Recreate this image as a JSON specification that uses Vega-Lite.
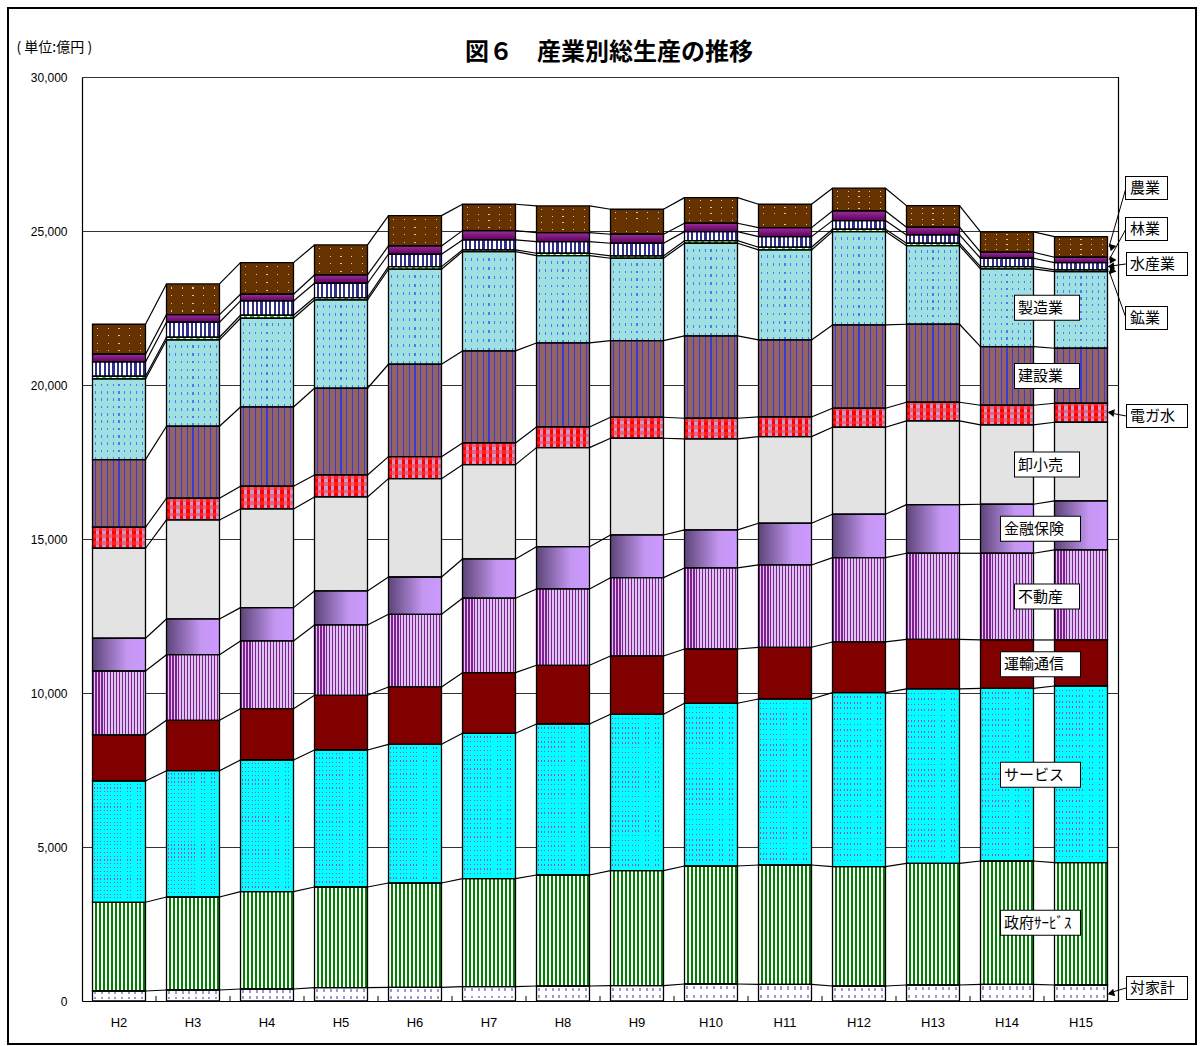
{
"$schema": "https://vega.github.io/schema/vega-lite/v6.json",
"width": 1188, "height": 1036,
"autosize": {"type": "none"},
"padding": {"left": 8, "top": 8, "right": 8, "bottom": 2},
"background": "#ffffff",
"config": {"view": {"stroke": "#000", "strokeWidth": 2, "fill": "#fff"}, "font": "Noto Sans CJK JP"},
"title": {"text": "図６　産業別総生産の推移", "font": "Noto Sans CJK JP", "fontSize": 24, "fontWeight": "bold", "color": "#000", "anchor": "middle", "frame": "group", "baseline": "middle", "offset": -69, "dx": 7},
"data": {"values": [
{"nen":2,"s":"対家計","v":325},{"nen":2,"s":"政府ｻｰﾋﾞｽ","v":2880},{"nen":2,"s":"サービス","v":3938},{"nen":2,"s":"運輸通信","v":1494},{"nen":2,"s":"不動産","v":2078},{"nen":2,"s":"金融保険","v":1062},{"nen":2,"s":"卸小売","v":2923},{"nen":2,"s":"電ガ水","v":681},{"nen":2,"s":"建設業","v":2195},{"nen":2,"s":"製造業","v":2620},{"nen":2,"s":"鉱業","v":88},{"nen":2,"s":"水産業","v":464},{"nen":2,"s":"林業","v":250},{"nen":2,"s":"農業","v":975},
{"nen":3,"s":"対家計","v":357},{"nen":3,"s":"政府ｻｰﾋﾞｽ","v":3020},{"nen":3,"s":"サービス","v":4101},{"nen":3,"s":"運輸通信","v":1636},{"nen":3,"s":"不動産","v":2131},{"nen":3,"s":"金融保険","v":1159},{"nen":3,"s":"卸小売","v":3214},{"nen":3,"s":"電ガ水","v":705},{"nen":3,"s":"建設業","v":2338},{"nen":3,"s":"製造業","v":2802},{"nen":3,"s":"鉱業","v":87},{"nen":3,"s":"水産業","v":488},{"nen":3,"s":"林業","v":247},{"nen":3,"s":"農業","v":996},
{"nen":4,"s":"対家計","v":390},{"nen":4,"s":"政府ｻｰﾋﾞｽ","v":3160},{"nen":4,"s":"サービス","v":4275},{"nen":4,"s":"運輸通信","v":1666},{"nen":4,"s":"不動産","v":2199},{"nen":4,"s":"金融保険","v":1081},{"nen":4,"s":"卸小売","v":3204},{"nen":4,"s":"電ガ水","v":737},{"nen":4,"s":"建設業","v":2575},{"nen":4,"s":"製造業","v":2880},{"nen":4,"s":"鉱業","v":97},{"nen":4,"s":"水産業","v":465},{"nen":4,"s":"林業","v":218},{"nen":4,"s":"農業","v":1026},
{"nen":5,"s":"対家計","v":433},{"nen":5,"s":"政府ｻｰﾋﾞｽ","v":3269},{"nen":5,"s":"サービス","v":4448},{"nen":5,"s":"運輸通信","v":1776},{"nen":5,"s":"不動産","v":2283},{"nen":5,"s":"金融保険","v":1104},{"nen":5,"s":"卸小売","v":3052},{"nen":5,"s":"電ガ水","v":714},{"nen":5,"s":"建設業","v":2815},{"nen":5,"s":"製造業","v":2868},{"nen":5,"s":"鉱業","v":78},{"nen":5,"s":"水産業","v":463},{"nen":5,"s":"林業","v":270},{"nen":5,"s":"農業","v":974},
{"nen":6,"s":"対家計","v":444},{"nen":6,"s":"政府ｻｰﾋﾞｽ","v":3387},{"nen":6,"s":"サービス","v":4503},{"nen":6,"s":"運輸通信","v":1862},{"nen":6,"s":"不動産","v":2360},{"nen":6,"s":"金融保険","v":1211},{"nen":6,"s":"卸小売","v":3192},{"nen":6,"s":"電ガ水","v":715},{"nen":6,"s":"建設業","v":3000},{"nen":6,"s":"製造業","v":3084},{"nen":6,"s":"鉱業","v":85},{"nen":6,"s":"水産業","v":402},{"nen":6,"s":"林業","v":270},{"nen":6,"s":"農業","v":984},
{"nen":7,"s":"対家計","v":465},{"nen":7,"s":"政府ｻｰﾋﾞｽ","v":3506},{"nen":7,"s":"サービス","v":4721},{"nen":7,"s":"運輸通信","v":1968},{"nen":7,"s":"不動産","v":2416},{"nen":7,"s":"金融保険","v":1276},{"nen":7,"s":"卸小売","v":3062},{"nen":7,"s":"電ガ水","v":704},{"nen":7,"s":"建設業","v":2988},{"nen":7,"s":"製造業","v":3224},{"nen":7,"s":"鉱業","v":55},{"nen":7,"s":"水産業","v":325},{"nen":7,"s":"林業","v":302},{"nen":7,"s":"農業","v":857},
{"nen":8,"s":"対家計","v":487},{"nen":8,"s":"政府ｻｰﾋﾞｽ","v":3604},{"nen":8,"s":"サービス","v":4903},{"nen":8,"s":"運輸通信","v":1906},{"nen":8,"s":"不動産","v":2478},{"nen":8,"s":"金融保険","v":1373},{"nen":8,"s":"卸小売","v":3215},{"nen":8,"s":"電ガ水","v":672},{"nen":8,"s":"建設業","v":2727},{"nen":8,"s":"製造業","v":2835},{"nen":8,"s":"鉱業","v":78},{"nen":8,"s":"水産業","v":377},{"nen":8,"s":"林業","v":292},{"nen":8,"s":"農業","v":867},
{"nen":9,"s":"対家計","v":497},{"nen":9,"s":"政府ｻｰﾋﾞｽ","v":3734},{"nen":9,"s":"サービス","v":5078},{"nen":9,"s":"運輸通信","v":1893},{"nen":9,"s":"不動産","v":2543},{"nen":9,"s":"金融保険","v":1386},{"nen":9,"s":"卸小売","v":3140},{"nen":9,"s":"電ガ水","v":682},{"nen":9,"s":"建設業","v":2487},{"nen":9,"s":"製造業","v":2676},{"nen":9,"s":"鉱業","v":74},{"nen":9,"s":"水産業","v":413},{"nen":9,"s":"林業","v":292},{"nen":9,"s":"農業","v":811},
{"nen":10,"s":"対家計","v":552},{"nen":10,"s":"政府ｻｰﾋﾞｽ","v":3831},{"nen":10,"s":"サービス","v":5283},{"nen":10,"s":"運輸通信","v":1763},{"nen":10,"s":"不動産","v":2631},{"nen":10,"s":"金融保険","v":1234},{"nen":10,"s":"卸小売","v":2954},{"nen":10,"s":"電ガ水","v":672},{"nen":10,"s":"建設業","v":2673},{"nen":10,"s":"製造業","v":3010},{"nen":10,"s":"鉱業","v":84},{"nen":10,"s":"水産業","v":293},{"nen":10,"s":"林業","v":272},{"nen":10,"s":"農業","v":832},
{"nen":11,"s":"対家計","v":541},{"nen":11,"s":"政府ｻｰﾋﾞｽ","v":3875},{"nen":11,"s":"サービス","v":5390},{"nen":11,"s":"運輸通信","v":1678},{"nen":11,"s":"不動産","v":2673},{"nen":11,"s":"金融保険","v":1354},{"nen":11,"s":"卸小売","v":2812},{"nen":11,"s":"電ガ水","v":640},{"nen":11,"s":"建設業","v":2500},{"nen":11,"s":"製造業","v":2922},{"nen":11,"s":"鉱業","v":87},{"nen":11,"s":"水産業","v":345},{"nen":11,"s":"林業","v":292},{"nen":11,"s":"農業","v":760},
{"nen":12,"s":"対家計","v":487},{"nen":12,"s":"政府ｻｰﾋﾞｽ","v":3874},{"nen":12,"s":"サービス","v":5650},{"nen":12,"s":"運輸通信","v":1646},{"nen":12,"s":"不動産","v":2737},{"nen":12,"s":"金融保険","v":1409},{"nen":12,"s":"卸小売","v":2825},{"nen":12,"s":"電ガ水","v":617},{"nen":12,"s":"建設業","v":2705},{"nen":12,"s":"製造業","v":3030},{"nen":12,"s":"鉱業","v":77},{"nen":12,"s":"水産業","v":280},{"nen":12,"s":"林業","v":315},{"nen":12,"s":"農業","v":737},
{"nen":13,"s":"対家計","v":520},{"nen":13,"s":"政府ｻｰﾋﾞｽ","v":3951},{"nen":13,"s":"サービス","v":5660},{"nen":13,"s":"運輸通信","v":1613},{"nen":13,"s":"不動産","v":2793},{"nen":13,"s":"金融保険","v":1578},{"nen":13,"s":"卸小売","v":2718},{"nen":13,"s":"電ガ水","v":607},{"nen":13,"s":"建設業","v":2533},{"nen":13,"s":"製造業","v":2552},{"nen":13,"s":"鉱業","v":78},{"nen":13,"s":"水産業","v":269},{"nen":13,"s":"林業","v":250},{"nen":13,"s":"農業","v":702},
{"nen":14,"s":"対家計","v":541},{"nen":14,"s":"政府ｻｰﾋﾞｽ","v":4005},{"nen":14,"s":"サービス","v":5607},{"nen":14,"s":"運輸通信","v":1569},{"nen":14,"s":"不動産","v":2815},{"nen":14,"s":"金融保険","v":1591},{"nen":14,"s":"卸小売","v":2575},{"nen":14,"s":"電ガ水","v":640},{"nen":14,"s":"建設業","v":1902},{"nen":14,"s":"製造業","v":2523},{"nen":14,"s":"鉱業","v":75},{"nen":14,"s":"水産業","v":273},{"nen":14,"s":"林業","v":195},{"nen":14,"s":"農業","v":659},
{"nen":15,"s":"対家計","v":520},{"nen":15,"s":"政府ｻｰﾋﾞｽ","v":3971},{"nen":15,"s":"サービス","v":5737},{"nen":15,"s":"運輸通信","v":1494},{"nen":15,"s":"不動産","v":2922},{"nen":15,"s":"金融保険","v":1591},{"nen":15,"s":"卸小売","v":2555},{"nen":15,"s":"電ガ水","v":617},{"nen":15,"s":"建設業","v":1786},{"nen":15,"s":"製造業","v":2487},{"nen":15,"s":"鉱業","v":56},{"nen":15,"s":"水産業","v":237},{"nen":15,"s":"林業","v":175},{"nen":15,"s":"農業","v":669}
]},
"transform": [
{"calculate": "indexof(['対家計','政府ｻｰﾋﾞｽ','サービス','運輸通信','不動産','金融保険','卸小売','電ガ水','建設業','製造業','鉱業','水産業','林業','農業'], datum.s)", "as": "k"},
{"stack": "v", "groupby": ["nen"], "sort": [{"field": "k", "order": "ascending"}], "as": ["y0", "y1"]},
{"calculate": "(datum.y0 + datum.y1) / 2", "as": "mid"},
{"window": [{"op": "lead", "field": "nen", "as": "nx"}, {"op": "lead", "field": "y1", "as": "ny1"}], "groupby": ["s"], "sort": [{"field": "nen", "order": "ascending"}]}
],
"layer": [
{"mark": {"type": "bar"},
 "encoding": {
  "x": {"field": "nen", "type": "ordinal", "scale": {"range": [74, 1110], "paddingInner": 0.284, "paddingOuter": 0.142},
        "axis": {"orient": "bottom", "offset": -43, "title": null, "labelExpr": "isValid(datum.value) ? 'H' + datum.value : ''", "labelAngle": 0, "labelFont": "Liberation Sans", "labelFontSize": 13, "labelColor": "#000", "labelPadding": 15, "ticks": false, "domainColor": "#000", "domainWidth": 1.2, "grid": false}},
  "y": {"field": "y0", "type": "quantitative", "scale": {"domain": [0, 30000], "range": [993, 69], "nice": false, "zero": true},
        "axis": {"orient": "left", "offset": -74, "values": [0, 5000, 10000, 15000, 20000, 25000, 30000], "labelExpr": "format(datum.value, ',.0f')", "grid": true, "gridColor": "#333", "gridWidth": 1, "ticks": false, "domain": true, "domainColor": "#000", "domainWidth": 1.2, "labelFont": "Liberation Sans", "labelFontSize": 12, "labelColor": "#000", "labelPadding": 15, "title": "( 単位:億円 )", "titleAngle": 0, "titleAlign": "left", "titleBaseline": "middle", "titleX": -66, "titleY": 39, "titleFont": "Noto Sans CJK JP", "titleFontSize": 14, "titleFontWeight": "normal", "titleColor": "#000"}},
  "y2": {"field": "y1"},
  "color": {"field": "s", "type": "nominal", "legend": null,
     "scale": {"domain": ["対家計","政府ｻｰﾋﾞｽ","サービス","運輸通信","不動産","金融保険","卸小売","電ガ水","建設業","製造業","鉱業","水産業","林業","農業"],
               "range": ["#f4f4fa","#ffffff","#00ffff","#800000","#c8a0e0","#9070b8","#e3e3e3","#ff3366","#936262","#a0dfe2","#ffffff","#ffffff","#800080","#663300"]}}
 }},
{"transform": [{"filter": "datum.s == '対家計'"}],
 "mark": {"type": "bar", "fill": {"gradient": "linear", "x1": 0, "y1": 0, "x2": 1, "y2": 0, "stops": [{"offset":0,"color":"#fff"},{"offset":0.0375,"color":"#fff"},{"offset":0.0375,"color":"#9a9ad0"},{"offset":0.075,"color":"#9a9ad0"},{"offset":0.075,"color":"#fff"},{"offset":0.1625,"color":"#fff"},{"offset":0.1625,"color":"#9a9ad0"},{"offset":0.2,"color":"#9a9ad0"},{"offset":0.2,"color":"#fff"},{"offset":0.2875,"color":"#fff"},{"offset":0.2875,"color":"#9a9ad0"},{"offset":0.325,"color":"#9a9ad0"},{"offset":0.325,"color":"#fff"},{"offset":0.4125,"color":"#fff"},{"offset":0.4125,"color":"#9a9ad0"},{"offset":0.45,"color":"#9a9ad0"},{"offset":0.45,"color":"#fff"},{"offset":0.5375,"color":"#fff"},{"offset":0.5375,"color":"#9a9ad0"},{"offset":0.575,"color":"#9a9ad0"},{"offset":0.575,"color":"#fff"},{"offset":0.6625,"color":"#fff"},{"offset":0.6625,"color":"#9a9ad0"},{"offset":0.7,"color":"#9a9ad0"},{"offset":0.7,"color":"#fff"},{"offset":0.7875,"color":"#fff"},{"offset":0.7875,"color":"#9a9ad0"},{"offset":0.825,"color":"#9a9ad0"},{"offset":0.825,"color":"#fff"},{"offset":0.9125,"color":"#fff"},{"offset":0.9125,"color":"#9a9ad0"},{"offset":0.95,"color":"#9a9ad0"},{"offset":0.95,"color":"#fff"},{"offset":1,"color":"#fff"}]}},
 "encoding": {"x": {"field": "nen", "type": "ordinal"}, "y": {"field": "y0", "type": "quantitative"}, "y2": {"field": "y1"}}},
{"transform": [{"filter": "datum.s == '対家計'"}],
 "mark": {"type": "bar", "fill": {"gradient": "linear", "x1": 0, "y1": 0, "x2": 0, "y2": 1, "stops": [{"offset":0,"color":"#fff"},{"offset":0.12,"color":"#fff"},{"offset":0.12,"color":"rgba(255,255,255,0)"},{"offset":0.32,"color":"rgba(255,255,255,0)"},{"offset":0.32,"color":"#fff"},{"offset":0.62,"color":"#fff"},{"offset":0.62,"color":"rgba(255,255,255,0)"},{"offset":0.82,"color":"rgba(255,255,255,0)"},{"offset":0.82,"color":"#fff"},{"offset":1,"color":"#fff"}]}},
 "encoding": {"x": {"field": "nen", "type": "ordinal"}, "y": {"field": "y0", "type": "quantitative"}, "y2": {"field": "y1"}}},
{"transform": [{"filter": "datum.s == '政府ｻｰﾋﾞｽ'"}],
 "mark": {"type": "bar", "fill": {"gradient": "linear", "x1": 0, "y1": 0, "x2": 1, "y2": 0, "stops": [{"offset":0,"color":"#fff"},{"offset":0.0385,"color":"#fff"},{"offset":0.0385,"color":"#008000"},{"offset":0.0769,"color":"#008000"},{"offset":0.0769,"color":"#fff"},{"offset":0.1154,"color":"#fff"},{"offset":0.1154,"color":"#008000"},{"offset":0.1538,"color":"#008000"},{"offset":0.1538,"color":"#fff"},{"offset":0.1923,"color":"#fff"},{"offset":0.1923,"color":"#008000"},{"offset":0.2308,"color":"#008000"},{"offset":0.2308,"color":"#fff"},{"offset":0.2692,"color":"#fff"},{"offset":0.2692,"color":"#008000"},{"offset":0.3077,"color":"#008000"},{"offset":0.3077,"color":"#fff"},{"offset":0.3462,"color":"#fff"},{"offset":0.3462,"color":"#008000"},{"offset":0.3846,"color":"#008000"},{"offset":0.3846,"color":"#fff"},{"offset":0.4231,"color":"#fff"},{"offset":0.4231,"color":"#008000"},{"offset":0.4615,"color":"#008000"},{"offset":0.4615,"color":"#fff"},{"offset":0.5,"color":"#fff"},{"offset":0.5,"color":"#008000"},{"offset":0.5385,"color":"#008000"},{"offset":0.5385,"color":"#fff"},{"offset":0.5769,"color":"#fff"},{"offset":0.5769,"color":"#008000"},{"offset":0.6154,"color":"#008000"},{"offset":0.6154,"color":"#fff"},{"offset":0.6538,"color":"#fff"},{"offset":0.6538,"color":"#008000"},{"offset":0.6923,"color":"#008000"},{"offset":0.6923,"color":"#fff"},{"offset":0.7308,"color":"#fff"},{"offset":0.7308,"color":"#008000"},{"offset":0.7692,"color":"#008000"},{"offset":0.7692,"color":"#fff"},{"offset":0.8077,"color":"#fff"},{"offset":0.8077,"color":"#008000"},{"offset":0.8462,"color":"#008000"},{"offset":0.8462,"color":"#fff"},{"offset":0.8846,"color":"#fff"},{"offset":0.8846,"color":"#008000"},{"offset":0.9231,"color":"#008000"},{"offset":0.9231,"color":"#fff"},{"offset":0.9615,"color":"#fff"},{"offset":0.9615,"color":"#008000"},{"offset":1,"color":"#008000"}]}},
 "encoding": {"x": {"field": "nen", "type": "ordinal"}, "y": {"field": "y0", "type": "quantitative"}, "y2": {"field": "y1"}}},
{"transform": [{"filter": "datum.s == 'サービス'"}],
 "mark": {"type": "bar", "fill": {"gradient": "linear", "x1": 0, "y1": 0, "x2": 1, "y2": 0, "stops": [{"offset":0,"color":"#00ffff"},{"offset":0.025,"color":"#00ffff"},{"offset":0.025,"color":"#b040c8"},{"offset":0.0406,"color":"#b040c8"},{"offset":0.0406,"color":"#00ffff"},{"offset":0.0875,"color":"#00ffff"},{"offset":0.0875,"color":"#b040c8"},{"offset":0.1031,"color":"#b040c8"},{"offset":0.1031,"color":"#00ffff"},{"offset":0.15,"color":"#00ffff"},{"offset":0.15,"color":"#b040c8"},{"offset":0.1656,"color":"#b040c8"},{"offset":0.1656,"color":"#00ffff"},{"offset":0.2125,"color":"#00ffff"},{"offset":0.2125,"color":"#b040c8"},{"offset":0.2281,"color":"#b040c8"},{"offset":0.2281,"color":"#00ffff"},{"offset":0.275,"color":"#00ffff"},{"offset":0.275,"color":"#b040c8"},{"offset":0.2906,"color":"#b040c8"},{"offset":0.2906,"color":"#00ffff"},{"offset":0.3375,"color":"#00ffff"},{"offset":0.3375,"color":"#b040c8"},{"offset":0.3531,"color":"#b040c8"},{"offset":0.3531,"color":"#00ffff"},{"offset":0.4,"color":"#00ffff"},{"offset":0.4,"color":"#b040c8"},{"offset":0.4156,"color":"#b040c8"},{"offset":0.4156,"color":"#00ffff"},{"offset":0.4625,"color":"#00ffff"},{"offset":0.4625,"color":"#b040c8"},{"offset":0.4781,"color":"#b040c8"},{"offset":0.4781,"color":"#00ffff"},{"offset":0.525,"color":"#00ffff"},{"offset":0.525,"color":"#b040c8"},{"offset":0.5406,"color":"#b040c8"},{"offset":0.5406,"color":"#00ffff"},{"offset":0.5875,"color":"#00ffff"},{"offset":0.5875,"color":"#b040c8"},{"offset":0.6031,"color":"#b040c8"},{"offset":0.6031,"color":"#00ffff"},{"offset":0.65,"color":"#00ffff"},{"offset":0.65,"color":"#b040c8"},{"offset":0.6656,"color":"#b040c8"},{"offset":0.6656,"color":"#00ffff"},{"offset":0.7125,"color":"#00ffff"},{"offset":0.7125,"color":"#b040c8"},{"offset":0.7281,"color":"#b040c8"},{"offset":0.7281,"color":"#00ffff"},{"offset":0.775,"color":"#00ffff"},{"offset":0.775,"color":"#b040c8"},{"offset":0.7906,"color":"#b040c8"},{"offset":0.7906,"color":"#00ffff"},{"offset":0.8375,"color":"#00ffff"},{"offset":0.8375,"color":"#b040c8"},{"offset":0.8531,"color":"#b040c8"},{"offset":0.8531,"color":"#00ffff"},{"offset":0.9,"color":"#00ffff"},{"offset":0.9,"color":"#b040c8"},{"offset":0.9156,"color":"#b040c8"},{"offset":0.9156,"color":"#00ffff"},{"offset":0.9625,"color":"#00ffff"},{"offset":0.9625,"color":"#b040c8"},{"offset":0.9781,"color":"#b040c8"},{"offset":0.9781,"color":"#00ffff"},{"offset":1,"color":"#00ffff"}]}},
 "encoding": {"x": {"field": "nen", "type": "ordinal"}, "y": {"field": "y0", "type": "quantitative"}, "y2": {"field": "y1"}}},
{"transform": [{"filter": "datum.s == 'サービス'"}],
 "mark": {"type": "bar", "fill": {"gradient": "linear", "x1": 0, "y1": 0, "x2": 0, "y2": 1, "stops": [{"offset":0,"color":"#00ffff"},{"offset":0.0219,"color":"#00ffff"},{"offset":0.0219,"color":"rgba(0,255,255,0)"},{"offset":0.03125,"color":"rgba(0,255,255,0)"},{"offset":0.03125,"color":"#00ffff"},{"offset":0.0531,"color":"#00ffff"},{"offset":0.0531,"color":"rgba(0,255,255,0)"},{"offset":0.0625,"color":"rgba(0,255,255,0)"},{"offset":0.0625,"color":"#00ffff"},{"offset":0.0844,"color":"#00ffff"},{"offset":0.0844,"color":"rgba(0,255,255,0)"},{"offset":0.09375,"color":"rgba(0,255,255,0)"},{"offset":0.09375,"color":"#00ffff"},{"offset":0.1156,"color":"#00ffff"},{"offset":0.1156,"color":"rgba(0,255,255,0)"},{"offset":0.125,"color":"rgba(0,255,255,0)"},{"offset":0.125,"color":"#00ffff"},{"offset":0.1469,"color":"#00ffff"},{"offset":0.1469,"color":"rgba(0,255,255,0)"},{"offset":0.15625,"color":"rgba(0,255,255,0)"},{"offset":0.15625,"color":"#00ffff"},{"offset":0.1781,"color":"#00ffff"},{"offset":0.1781,"color":"rgba(0,255,255,0)"},{"offset":0.1875,"color":"rgba(0,255,255,0)"},{"offset":0.1875,"color":"#00ffff"},{"offset":0.2094,"color":"#00ffff"},{"offset":0.2094,"color":"rgba(0,255,255,0)"},{"offset":0.21875,"color":"rgba(0,255,255,0)"},{"offset":0.21875,"color":"#00ffff"},{"offset":0.2406,"color":"#00ffff"},{"offset":0.2406,"color":"rgba(0,255,255,0)"},{"offset":0.25,"color":"rgba(0,255,255,0)"},{"offset":0.25,"color":"#00ffff"},{"offset":0.2719,"color":"#00ffff"},{"offset":0.2719,"color":"rgba(0,255,255,0)"},{"offset":0.28125,"color":"rgba(0,255,255,0)"},{"offset":0.28125,"color":"#00ffff"},{"offset":0.3031,"color":"#00ffff"},{"offset":0.3031,"color":"rgba(0,255,255,0)"},{"offset":0.3125,"color":"rgba(0,255,255,0)"},{"offset":0.3125,"color":"#00ffff"},{"offset":0.3344,"color":"#00ffff"},{"offset":0.3344,"color":"rgba(0,255,255,0)"},{"offset":0.34375,"color":"rgba(0,255,255,0)"},{"offset":0.34375,"color":"#00ffff"},{"offset":0.3656,"color":"#00ffff"},{"offset":0.3656,"color":"rgba(0,255,255,0)"},{"offset":0.375,"color":"rgba(0,255,255,0)"},{"offset":0.375,"color":"#00ffff"},{"offset":0.3969,"color":"#00ffff"},{"offset":0.3969,"color":"rgba(0,255,255,0)"},{"offset":0.40625,"color":"rgba(0,255,255,0)"},{"offset":0.40625,"color":"#00ffff"},{"offset":0.4281,"color":"#00ffff"},{"offset":0.4281,"color":"rgba(0,255,255,0)"},{"offset":0.4375,"color":"rgba(0,255,255,0)"},{"offset":0.4375,"color":"#00ffff"},{"offset":0.4594,"color":"#00ffff"},{"offset":0.4594,"color":"rgba(0,255,255,0)"},{"offset":0.46875,"color":"rgba(0,255,255,0)"},{"offset":0.46875,"color":"#00ffff"},{"offset":0.4906,"color":"#00ffff"},{"offset":0.4906,"color":"rgba(0,255,255,0)"},{"offset":0.5,"color":"rgba(0,255,255,0)"},{"offset":0.5,"color":"#00ffff"},{"offset":0.5219,"color":"#00ffff"},{"offset":0.5219,"color":"rgba(0,255,255,0)"},{"offset":0.53125,"color":"rgba(0,255,255,0)"},{"offset":0.53125,"color":"#00ffff"},{"offset":0.5531,"color":"#00ffff"},{"offset":0.5531,"color":"rgba(0,255,255,0)"},{"offset":0.5625,"color":"rgba(0,255,255,0)"},{"offset":0.5625,"color":"#00ffff"},{"offset":0.5844,"color":"#00ffff"},{"offset":0.5844,"color":"rgba(0,255,255,0)"},{"offset":0.59375,"color":"rgba(0,255,255,0)"},{"offset":0.59375,"color":"#00ffff"},{"offset":0.6156,"color":"#00ffff"},{"offset":0.6156,"color":"rgba(0,255,255,0)"},{"offset":0.625,"color":"rgba(0,255,255,0)"},{"offset":0.625,"color":"#00ffff"},{"offset":0.6469,"color":"#00ffff"},{"offset":0.6469,"color":"rgba(0,255,255,0)"},{"offset":0.65625,"color":"rgba(0,255,255,0)"},{"offset":0.65625,"color":"#00ffff"},{"offset":0.6781,"color":"#00ffff"},{"offset":0.6781,"color":"rgba(0,255,255,0)"},{"offset":0.6875,"color":"rgba(0,255,255,0)"},{"offset":0.6875,"color":"#00ffff"},{"offset":0.7094,"color":"#00ffff"},{"offset":0.7094,"color":"rgba(0,255,255,0)"},{"offset":0.71875,"color":"rgba(0,255,255,0)"},{"offset":0.71875,"color":"#00ffff"},{"offset":0.7406,"color":"#00ffff"},{"offset":0.7406,"color":"rgba(0,255,255,0)"},{"offset":0.75,"color":"rgba(0,255,255,0)"},{"offset":0.75,"color":"#00ffff"},{"offset":0.7719,"color":"#00ffff"},{"offset":0.7719,"color":"rgba(0,255,255,0)"},{"offset":0.78125,"color":"rgba(0,255,255,0)"},{"offset":0.78125,"color":"#00ffff"},{"offset":0.8031,"color":"#00ffff"},{"offset":0.8031,"color":"rgba(0,255,255,0)"},{"offset":0.8125,"color":"rgba(0,255,255,0)"},{"offset":0.8125,"color":"#00ffff"},{"offset":0.8344,"color":"#00ffff"},{"offset":0.8344,"color":"rgba(0,255,255,0)"},{"offset":0.84375,"color":"rgba(0,255,255,0)"},{"offset":0.84375,"color":"#00ffff"},{"offset":0.8656,"color":"#00ffff"},{"offset":0.8656,"color":"rgba(0,255,255,0)"},{"offset":0.875,"color":"rgba(0,255,255,0)"},{"offset":0.875,"color":"#00ffff"},{"offset":0.8969,"color":"#00ffff"},{"offset":0.8969,"color":"rgba(0,255,255,0)"},{"offset":0.90625,"color":"rgba(0,255,255,0)"},{"offset":0.90625,"color":"#00ffff"},{"offset":0.9281,"color":"#00ffff"},{"offset":0.9281,"color":"rgba(0,255,255,0)"},{"offset":0.9375,"color":"rgba(0,255,255,0)"},{"offset":0.9375,"color":"#00ffff"},{"offset":0.9594,"color":"#00ffff"},{"offset":0.9594,"color":"rgba(0,255,255,0)"},{"offset":0.96875,"color":"rgba(0,255,255,0)"},{"offset":0.96875,"color":"#00ffff"},{"offset":1,"color":"#00ffff"}]}},
 "encoding": {"x": {"field": "nen", "type": "ordinal"}, "y": {"field": "y0", "type": "quantitative"}, "y2": {"field": "y1"}}},
{"transform": [{"filter": "datum.s == '不動産'"}],
 "mark": {"type": "bar", "fill": {"gradient": "linear", "x1": 0, "y1": 0, "x2": 1, "y2": 0, "stops": [{"offset":0,"color":"#80208f"},{"offset":0.0222,"color":"#80208f"},{"offset":0.0222,"color":"#dcc4f0"},{"offset":0.0556,"color":"#dcc4f0"},{"offset":0.0556,"color":"#80208f"},{"offset":0.0778,"color":"#80208f"},{"offset":0.0778,"color":"#dcc4f0"},{"offset":0.1111,"color":"#dcc4f0"},{"offset":0.1111,"color":"#80208f"},{"offset":0.1333,"color":"#80208f"},{"offset":0.1333,"color":"#dcc4f0"},{"offset":0.1667,"color":"#dcc4f0"},{"offset":0.1667,"color":"#80208f"},{"offset":0.1889,"color":"#80208f"},{"offset":0.1889,"color":"#dcc4f0"},{"offset":0.2222,"color":"#dcc4f0"},{"offset":0.2222,"color":"#80208f"},{"offset":0.2444,"color":"#80208f"},{"offset":0.2444,"color":"#dcc4f0"},{"offset":0.2778,"color":"#dcc4f0"},{"offset":0.2778,"color":"#80208f"},{"offset":0.3,"color":"#80208f"},{"offset":0.3,"color":"#dcc4f0"},{"offset":0.3333,"color":"#dcc4f0"},{"offset":0.3333,"color":"#80208f"},{"offset":0.3556,"color":"#80208f"},{"offset":0.3556,"color":"#dcc4f0"},{"offset":0.3889,"color":"#dcc4f0"},{"offset":0.3889,"color":"#80208f"},{"offset":0.4111,"color":"#80208f"},{"offset":0.4111,"color":"#dcc4f0"},{"offset":0.4444,"color":"#dcc4f0"},{"offset":0.4444,"color":"#80208f"},{"offset":0.4667,"color":"#80208f"},{"offset":0.4667,"color":"#dcc4f0"},{"offset":0.5,"color":"#dcc4f0"},{"offset":0.5,"color":"#80208f"},{"offset":0.5222,"color":"#80208f"},{"offset":0.5222,"color":"#dcc4f0"},{"offset":0.5556,"color":"#dcc4f0"},{"offset":0.5556,"color":"#80208f"},{"offset":0.5778,"color":"#80208f"},{"offset":0.5778,"color":"#dcc4f0"},{"offset":0.6111,"color":"#dcc4f0"},{"offset":0.6111,"color":"#80208f"},{"offset":0.6333,"color":"#80208f"},{"offset":0.6333,"color":"#dcc4f0"},{"offset":0.6667,"color":"#dcc4f0"},{"offset":0.6667,"color":"#80208f"},{"offset":0.6889,"color":"#80208f"},{"offset":0.6889,"color":"#dcc4f0"},{"offset":0.7222,"color":"#dcc4f0"},{"offset":0.7222,"color":"#80208f"},{"offset":0.7444,"color":"#80208f"},{"offset":0.7444,"color":"#dcc4f0"},{"offset":0.7778,"color":"#dcc4f0"},{"offset":0.7778,"color":"#80208f"},{"offset":0.8,"color":"#80208f"},{"offset":0.8,"color":"#dcc4f0"},{"offset":0.8333,"color":"#dcc4f0"},{"offset":0.8333,"color":"#80208f"},{"offset":0.8556,"color":"#80208f"},{"offset":0.8556,"color":"#dcc4f0"},{"offset":0.8889,"color":"#dcc4f0"},{"offset":0.8889,"color":"#80208f"},{"offset":0.9111,"color":"#80208f"},{"offset":0.9111,"color":"#dcc4f0"},{"offset":0.9444,"color":"#dcc4f0"},{"offset":0.9444,"color":"#80208f"},{"offset":0.9667,"color":"#80208f"},{"offset":0.9667,"color":"#dcc4f0"},{"offset":1,"color":"#dcc4f0"}]}},
 "encoding": {"x": {"field": "nen", "type": "ordinal"}, "y": {"field": "y0", "type": "quantitative"}, "y2": {"field": "y1"}}},
{"transform": [{"filter": "datum.s == '金融保険'"}],
 "mark": {"type": "bar", "fill": {"gradient": "linear", "x1": 0, "y1": 0, "x2": 1, "y2": 0, "stops": [{"offset": 0, "color": "#5c4477"}, {"offset": 0.65, "color": "#c497f2"}, {"offset": 1, "color": "#cc99ff"}]}},
 "encoding": {"x": {"field": "nen", "type": "ordinal"}, "y": {"field": "y0", "type": "quantitative"}, "y2": {"field": "y1"}}},
{"transform": [{"filter": "datum.s == '電ガ水'"}],
 "mark": {"type": "bar", "fill": {"gradient": "linear", "x1": 0, "y1": 0, "x2": 1, "y2": 0, "stops": [{"offset":0,"color":"#ff0000"},{"offset":0.0625,"color":"#ff0000"},{"offset":0.0625,"color":"#cc99cc"},{"offset":0.125,"color":"#cc99cc"},{"offset":0.125,"color":"#ff0000"},{"offset":0.1875,"color":"#ff0000"},{"offset":0.1875,"color":"#cc99cc"},{"offset":0.25,"color":"#cc99cc"},{"offset":0.25,"color":"#ff0000"},{"offset":0.3125,"color":"#ff0000"},{"offset":0.3125,"color":"#cc99cc"},{"offset":0.375,"color":"#cc99cc"},{"offset":0.375,"color":"#ff0000"},{"offset":0.4375,"color":"#ff0000"},{"offset":0.4375,"color":"#cc99cc"},{"offset":0.5,"color":"#cc99cc"},{"offset":0.5,"color":"#ff0000"},{"offset":0.5625,"color":"#ff0000"},{"offset":0.5625,"color":"#cc99cc"},{"offset":0.625,"color":"#cc99cc"},{"offset":0.625,"color":"#ff0000"},{"offset":0.6875,"color":"#ff0000"},{"offset":0.6875,"color":"#cc99cc"},{"offset":0.75,"color":"#cc99cc"},{"offset":0.75,"color":"#ff0000"},{"offset":0.8125,"color":"#ff0000"},{"offset":0.8125,"color":"#cc99cc"},{"offset":0.875,"color":"#cc99cc"},{"offset":0.875,"color":"#ff0000"},{"offset":0.9375,"color":"#ff0000"},{"offset":0.9375,"color":"#cc99cc"},{"offset":1,"color":"#cc99cc"}]}},
 "encoding": {"x": {"field": "nen", "type": "ordinal"}, "y": {"field": "y0", "type": "quantitative"}, "y2": {"field": "y1"}}},
{"transform": [{"filter": "datum.s == '電ガ水'"}],
 "mark": {"type": "bar", "fill": {"gradient": "linear", "x1": 0, "y1": 0, "x2": 0, "y2": 1, "stops": [{"offset":0,"color":"rgba(255,60,60,0.55)"},{"offset":0.167,"color":"rgba(255,60,60,0.55)"},{"offset":0.167,"color":"rgba(255,255,255,0)"},{"offset":0.333,"color":"rgba(255,255,255,0)"},{"offset":0.333,"color":"rgba(255,60,60,0.55)"},{"offset":0.5,"color":"rgba(255,60,60,0.55)"},{"offset":0.5,"color":"rgba(255,255,255,0)"},{"offset":0.667,"color":"rgba(255,255,255,0)"},{"offset":0.667,"color":"rgba(255,60,60,0.55)"},{"offset":0.833,"color":"rgba(255,60,60,0.55)"},{"offset":0.833,"color":"rgba(255,255,255,0)"},{"offset":1,"color":"rgba(255,255,255,0)"}]}},
 "encoding": {"x": {"field": "nen", "type": "ordinal"}, "y": {"field": "y0", "type": "quantitative"}, "y2": {"field": "y1"}}},
{"transform": [{"filter": "datum.s == '建設業'"}],
 "mark": {"type": "bar", "fill": {"gradient": "linear", "x1": 0, "y1": 0, "x2": 1, "y2": 0, "stops": [{"offset":0,"color":"#936262"},{"offset":0.0444,"color":"#936262"},{"offset":0.0444,"color":"#3a3ad6"},{"offset":0.0667,"color":"#3a3ad6"},{"offset":0.0667,"color":"#936262"},{"offset":0.1556,"color":"#936262"},{"offset":0.1556,"color":"#3a3ad6"},{"offset":0.1778,"color":"#3a3ad6"},{"offset":0.1778,"color":"#936262"},{"offset":0.2667,"color":"#936262"},{"offset":0.2667,"color":"#3a3ad6"},{"offset":0.2889,"color":"#3a3ad6"},{"offset":0.2889,"color":"#936262"},{"offset":0.3778,"color":"#936262"},{"offset":0.3778,"color":"#3a3ad6"},{"offset":0.4,"color":"#3a3ad6"},{"offset":0.4,"color":"#936262"},{"offset":0.4889,"color":"#936262"},{"offset":0.4889,"color":"#3a3ad6"},{"offset":0.5111,"color":"#3a3ad6"},{"offset":0.5111,"color":"#936262"},{"offset":0.6,"color":"#936262"},{"offset":0.6,"color":"#3a3ad6"},{"offset":0.6222,"color":"#3a3ad6"},{"offset":0.6222,"color":"#936262"},{"offset":0.7111,"color":"#936262"},{"offset":0.7111,"color":"#3a3ad6"},{"offset":0.7333,"color":"#3a3ad6"},{"offset":0.7333,"color":"#936262"},{"offset":0.8222,"color":"#936262"},{"offset":0.8222,"color":"#3a3ad6"},{"offset":0.8444,"color":"#3a3ad6"},{"offset":0.8444,"color":"#936262"},{"offset":0.9333,"color":"#936262"},{"offset":0.9333,"color":"#3a3ad6"},{"offset":0.9556,"color":"#3a3ad6"},{"offset":0.9556,"color":"#936262"},{"offset":1,"color":"#936262"}]}},
 "encoding": {"x": {"field": "nen", "type": "ordinal"}, "y": {"field": "y0", "type": "quantitative"}, "y2": {"field": "y1"}}},
{"transform": [{"filter": "datum.s == '製造業'"}],
 "mark": {"type": "bar", "fill": {"gradient": "linear", "x1": 0, "y1": 0, "x2": 1, "y2": 0, "stops": [{"offset":0,"color":"#a0dfe2"},{"offset":0.0444,"color":"#a0dfe2"},{"offset":0.0444,"color":"#3f80f2"},{"offset":0.0667,"color":"#3f80f2"},{"offset":0.0667,"color":"#a0dfe2"},{"offset":0.1556,"color":"#a0dfe2"},{"offset":0.1556,"color":"#3f80f2"},{"offset":0.1778,"color":"#3f80f2"},{"offset":0.1778,"color":"#a0dfe2"},{"offset":0.2667,"color":"#a0dfe2"},{"offset":0.2667,"color":"#3f80f2"},{"offset":0.2889,"color":"#3f80f2"},{"offset":0.2889,"color":"#a0dfe2"},{"offset":0.3778,"color":"#a0dfe2"},{"offset":0.3778,"color":"#3f80f2"},{"offset":0.4,"color":"#3f80f2"},{"offset":0.4,"color":"#a0dfe2"},{"offset":0.4889,"color":"#a0dfe2"},{"offset":0.4889,"color":"#3f80f2"},{"offset":0.5111,"color":"#3f80f2"},{"offset":0.5111,"color":"#a0dfe2"},{"offset":0.6,"color":"#a0dfe2"},{"offset":0.6,"color":"#3f80f2"},{"offset":0.6222,"color":"#3f80f2"},{"offset":0.6222,"color":"#a0dfe2"},{"offset":0.7111,"color":"#a0dfe2"},{"offset":0.7111,"color":"#3f80f2"},{"offset":0.7333,"color":"#3f80f2"},{"offset":0.7333,"color":"#a0dfe2"},{"offset":0.8222,"color":"#a0dfe2"},{"offset":0.8222,"color":"#3f80f2"},{"offset":0.8444,"color":"#3f80f2"},{"offset":0.8444,"color":"#a0dfe2"},{"offset":0.9333,"color":"#a0dfe2"},{"offset":0.9333,"color":"#3f80f2"},{"offset":0.9556,"color":"#3f80f2"},{"offset":0.9556,"color":"#a0dfe2"},{"offset":1,"color":"#a0dfe2"}]}},
 "encoding": {"x": {"field": "nen", "type": "ordinal"}, "y": {"field": "y0", "type": "quantitative"}, "y2": {"field": "y1"}}},
{"transform": [{"filter": "datum.s == '製造業'"}],
 "mark": {"type": "bar", "fill": {"gradient": "linear", "x1": 0, "y1": 0, "x2": 0, "y2": 1, "stops": [{"offset":0,"color":"#a0dfe2"},{"offset":0.0591,"color":"#a0dfe2"},{"offset":0.0591,"color":"rgba(160,223,226,0)"},{"offset":0.0909,"color":"rgba(160,223,226,0)"},{"offset":0.0909,"color":"#a0dfe2"},{"offset":0.15,"color":"#a0dfe2"},{"offset":0.15,"color":"rgba(160,223,226,0)"},{"offset":0.1818,"color":"rgba(160,223,226,0)"},{"offset":0.1818,"color":"#a0dfe2"},{"offset":0.2409,"color":"#a0dfe2"},{"offset":0.2409,"color":"rgba(160,223,226,0)"},{"offset":0.2727,"color":"rgba(160,223,226,0)"},{"offset":0.2727,"color":"#a0dfe2"},{"offset":0.3318,"color":"#a0dfe2"},{"offset":0.3318,"color":"rgba(160,223,226,0)"},{"offset":0.3636,"color":"rgba(160,223,226,0)"},{"offset":0.3636,"color":"#a0dfe2"},{"offset":0.4227,"color":"#a0dfe2"},{"offset":0.4227,"color":"rgba(160,223,226,0)"},{"offset":0.4545,"color":"rgba(160,223,226,0)"},{"offset":0.4545,"color":"#a0dfe2"},{"offset":0.5136,"color":"#a0dfe2"},{"offset":0.5136,"color":"rgba(160,223,226,0)"},{"offset":0.5455,"color":"rgba(160,223,226,0)"},{"offset":0.5455,"color":"#a0dfe2"},{"offset":0.6045,"color":"#a0dfe2"},{"offset":0.6045,"color":"rgba(160,223,226,0)"},{"offset":0.6364,"color":"rgba(160,223,226,0)"},{"offset":0.6364,"color":"#a0dfe2"},{"offset":0.6955,"color":"#a0dfe2"},{"offset":0.6955,"color":"rgba(160,223,226,0)"},{"offset":0.7273,"color":"rgba(160,223,226,0)"},{"offset":0.7273,"color":"#a0dfe2"},{"offset":0.7864,"color":"#a0dfe2"},{"offset":0.7864,"color":"rgba(160,223,226,0)"},{"offset":0.8182,"color":"rgba(160,223,226,0)"},{"offset":0.8182,"color":"#a0dfe2"},{"offset":0.8773,"color":"#a0dfe2"},{"offset":0.8773,"color":"rgba(160,223,226,0)"},{"offset":0.9091,"color":"rgba(160,223,226,0)"},{"offset":0.9091,"color":"#a0dfe2"},{"offset":0.9682,"color":"#a0dfe2"},{"offset":0.9682,"color":"rgba(160,223,226,0)"},{"offset":1,"color":"rgba(160,223,226,0)"}]}},
 "encoding": {"x": {"field": "nen", "type": "ordinal"}, "y": {"field": "y0", "type": "quantitative"}, "y2": {"field": "y1"}}},
{"transform": [{"filter": "datum.s == '鉱業'"}],
 "mark": {"type": "bar", "fill": {"gradient": "linear", "x1": 0, "y1": 0, "x2": 1, "y2": 0, "stops": [{"offset":0,"color":"#fff"},{"offset":0.0625,"color":"#fff"},{"offset":0.0625,"color":"#22cc22"},{"offset":0.125,"color":"#22cc22"},{"offset":0.125,"color":"#fff"},{"offset":0.1875,"color":"#fff"},{"offset":0.1875,"color":"#22cc22"},{"offset":0.25,"color":"#22cc22"},{"offset":0.25,"color":"#fff"},{"offset":0.3125,"color":"#fff"},{"offset":0.3125,"color":"#22cc22"},{"offset":0.375,"color":"#22cc22"},{"offset":0.375,"color":"#fff"},{"offset":0.4375,"color":"#fff"},{"offset":0.4375,"color":"#22cc22"},{"offset":0.5,"color":"#22cc22"},{"offset":0.5,"color":"#fff"},{"offset":0.5625,"color":"#fff"},{"offset":0.5625,"color":"#22cc22"},{"offset":0.625,"color":"#22cc22"},{"offset":0.625,"color":"#fff"},{"offset":0.6875,"color":"#fff"},{"offset":0.6875,"color":"#22cc22"},{"offset":0.75,"color":"#22cc22"},{"offset":0.75,"color":"#fff"},{"offset":0.8125,"color":"#fff"},{"offset":0.8125,"color":"#22cc22"},{"offset":0.875,"color":"#22cc22"},{"offset":0.875,"color":"#fff"},{"offset":0.9375,"color":"#fff"},{"offset":0.9375,"color":"#22cc22"},{"offset":1,"color":"#22cc22"}]}},
 "encoding": {"x": {"field": "nen", "type": "ordinal"}, "y": {"field": "y0", "type": "quantitative"}, "y2": {"field": "y1"}}},
{"transform": [{"filter": "datum.s == '水産業'"}],
 "mark": {"type": "bar", "fill": {"gradient": "linear", "x1": 0, "y1": 0, "x2": 1, "y2": 0, "stops": [{"offset":0,"color":"#fff"},{"offset":0.0417,"color":"#fff"},{"offset":0.0417,"color":"#30308c"},{"offset":0.0833,"color":"#30308c"},{"offset":0.0833,"color":"#fff"},{"offset":0.125,"color":"#fff"},{"offset":0.125,"color":"#30308c"},{"offset":0.1667,"color":"#30308c"},{"offset":0.1667,"color":"#fff"},{"offset":0.2083,"color":"#fff"},{"offset":0.2083,"color":"#30308c"},{"offset":0.25,"color":"#30308c"},{"offset":0.25,"color":"#fff"},{"offset":0.2917,"color":"#fff"},{"offset":0.2917,"color":"#30308c"},{"offset":0.3333,"color":"#30308c"},{"offset":0.3333,"color":"#fff"},{"offset":0.375,"color":"#fff"},{"offset":0.375,"color":"#30308c"},{"offset":0.4167,"color":"#30308c"},{"offset":0.4167,"color":"#fff"},{"offset":0.4583,"color":"#fff"},{"offset":0.4583,"color":"#30308c"},{"offset":0.5,"color":"#30308c"},{"offset":0.5,"color":"#fff"},{"offset":0.5417,"color":"#fff"},{"offset":0.5417,"color":"#30308c"},{"offset":0.5833,"color":"#30308c"},{"offset":0.5833,"color":"#fff"},{"offset":0.625,"color":"#fff"},{"offset":0.625,"color":"#30308c"},{"offset":0.6667,"color":"#30308c"},{"offset":0.6667,"color":"#fff"},{"offset":0.7083,"color":"#fff"},{"offset":0.7083,"color":"#30308c"},{"offset":0.75,"color":"#30308c"},{"offset":0.75,"color":"#fff"},{"offset":0.7917,"color":"#fff"},{"offset":0.7917,"color":"#30308c"},{"offset":0.8333,"color":"#30308c"},{"offset":0.8333,"color":"#fff"},{"offset":0.875,"color":"#fff"},{"offset":0.875,"color":"#30308c"},{"offset":0.9167,"color":"#30308c"},{"offset":0.9167,"color":"#fff"},{"offset":0.9583,"color":"#fff"},{"offset":0.9583,"color":"#30308c"},{"offset":1,"color":"#30308c"}]}},
 "encoding": {"x": {"field": "nen", "type": "ordinal"}, "y": {"field": "y0", "type": "quantitative"}, "y2": {"field": "y1"}}},
{"transform": [{"filter": "datum.s == '林業'"}],
 "mark": {"type": "bar", "fill": {"gradient": "linear", "x1": 0, "y1": 0, "x2": 0, "y2": 1, "stops": [{"offset": 0, "color": "#9b309b"}, {"offset": 1, "color": "#5e005e"}]}},
 "encoding": {"x": {"field": "nen", "type": "ordinal"}, "y": {"field": "y0", "type": "quantitative"}, "y2": {"field": "y1"}}},
{"transform": [{"filter": "datum.s == '農業'"}],
 "mark": {"type": "bar", "fill": {"gradient": "linear", "x1": 0, "y1": 0, "x2": 1, "y2": 0, "stops": [{"offset":0,"color":"#663300"},{"offset":0.09,"color":"#663300"},{"offset":0.09,"color":"#d8c8b0"},{"offset":0.11,"color":"#d8c8b0"},{"offset":0.11,"color":"#663300"},{"offset":0.29,"color":"#663300"},{"offset":0.29,"color":"#d8c8b0"},{"offset":0.31,"color":"#d8c8b0"},{"offset":0.31,"color":"#663300"},{"offset":0.49,"color":"#663300"},{"offset":0.49,"color":"#d8c8b0"},{"offset":0.51,"color":"#d8c8b0"},{"offset":0.51,"color":"#663300"},{"offset":0.69,"color":"#663300"},{"offset":0.69,"color":"#d8c8b0"},{"offset":0.71,"color":"#d8c8b0"},{"offset":0.71,"color":"#663300"},{"offset":0.89,"color":"#663300"},{"offset":0.89,"color":"#d8c8b0"},{"offset":0.91,"color":"#d8c8b0"},{"offset":0.91,"color":"#663300"},{"offset":1,"color":"#663300"}]}},
 "encoding": {"x": {"field": "nen", "type": "ordinal"}, "y": {"field": "y0", "type": "quantitative"}, "y2": {"field": "y1"}}},
{"transform": [{"filter": "datum.s == '農業'"}],
 "mark": {"type": "bar", "fill": {"gradient": "linear", "x1": 0, "y1": 0, "x2": 0, "y2": 1, "stops": [{"offset":0,"color":"#663300"},{"offset":0.1125,"color":"#663300"},{"offset":0.1125,"color":"rgba(102,51,0,0)"},{"offset":0.15,"color":"rgba(102,51,0,0)"},{"offset":0.15,"color":"#663300"},{"offset":0.3625,"color":"#663300"},{"offset":0.3625,"color":"rgba(102,51,0,0)"},{"offset":0.4,"color":"rgba(102,51,0,0)"},{"offset":0.4,"color":"#663300"},{"offset":0.6125,"color":"#663300"},{"offset":0.6125,"color":"rgba(102,51,0,0)"},{"offset":0.65,"color":"rgba(102,51,0,0)"},{"offset":0.65,"color":"#663300"},{"offset":0.8625,"color":"#663300"},{"offset":0.8625,"color":"rgba(102,51,0,0)"},{"offset":0.9,"color":"rgba(102,51,0,0)"},{"offset":0.9,"color":"#663300"},{"offset":1,"color":"#663300"}]}},
 "encoding": {"x": {"field": "nen", "type": "ordinal"}, "y": {"field": "y0", "type": "quantitative"}, "y2": {"field": "y1"}}},
{"mark": {"type": "bar", "fillOpacity": 0, "stroke": "#000", "strokeWidth": 1.3},
 "encoding": {"x": {"field": "nen", "type": "ordinal"}, "y": {"field": "y0", "type": "quantitative"}, "y2": {"field": "y1"}}},
{"transform": [{"filter": "isValid(datum.nx)"}],
 "mark": {"type": "rule", "stroke": "#000", "strokeWidth": 1.2, "xOffset": 26.5, "x2Offset": -26.5},
 "encoding": {"x": {"field": "nen", "type": "ordinal", "bandPosition": 0.5}, "x2": {"field": "nx", "bandPosition": 0.5}, "y": {"field": "y1", "type": "quantitative"}, "y2": {"field": "ny1"}}},
{"transform": [{"filter": "datum.nen == 15 && datum.s == '農業'"}],
 "mark": {"type": "rule", "stroke": "#000", "strokeWidth": 1.2, "xOffset": 37.5},
 "encoding": {"x": {"field": "nen", "type": "ordinal", "bandPosition": 0.5}, "y": {"datum": 0, "type": "quantitative"}, "y2": {"datum": 30000}}},
{"transform": [{"filter": "datum.nen > 2 && datum.s == '農業'"}],
 "mark": {"type": "rule", "stroke": "#000", "strokeWidth": 1, "xOffset": -37},
 "encoding": {"x": {"field": "nen", "type": "ordinal", "bandPosition": 0.5}, "y": {"datum": 0, "type": "quantitative"}, "y2": {"datum": 160}}},
{"transform": [{"filter": "datum.nen == 14 && indexof(['製造業','建設業','卸小売','不動産'], datum.s) >= 0"}],
 "encoding": {"x": {"field": "nen", "type": "ordinal", "bandPosition": 0.5}, "y": {"field": "mid", "type": "quantitative"}},
 "layer": [
  {"mark": {"type": "rule", "stroke": "#000", "strokeWidth": 26, "xOffset": 7, "x2Offset": 73}, "encoding": {"x2": {"field": "nen", "bandPosition": 0.5}}},
  {"mark": {"type": "rule", "stroke": "#fff", "strokeWidth": 24, "xOffset": 8, "x2Offset": 72}, "encoding": {"x2": {"field": "nen", "bandPosition": 0.5}}},
  {"mark": {"type": "text", "align": "left", "baseline": "middle", "dx": 11, "fontSize": 15, "font": "Noto Sans CJK JP", "fill": "#000"}, "encoding": {"text": {"field": "s"}}}
 ]},
{"transform": [{"filter": "datum.nen == 14 && indexof(['金融保険','運輸通信','サービス','政府ｻｰﾋﾞｽ'], datum.s) >= 0"}],
 "encoding": {"x": {"field": "nen", "type": "ordinal", "bandPosition": 0.5}, "y": {"field": "mid", "type": "quantitative"}},
 "layer": [
  {"mark": {"type": "rule", "stroke": "#000", "strokeWidth": 26, "xOffset": -7, "x2Offset": 74}, "encoding": {"x2": {"field": "nen", "bandPosition": 0.5}}},
  {"mark": {"type": "rule", "stroke": "#fff", "strokeWidth": 24, "xOffset": -6, "x2Offset": 73}, "encoding": {"x2": {"field": "nen", "bandPosition": 0.5}}},
  {"mark": {"type": "text", "align": "left", "baseline": "middle", "dx": -3, "fontSize": 15, "font": "Noto Sans CJK JP", "fill": "#000"}, "encoding": {"text": {"field": "s"}}}
 ]},
{"transform": [
  {"filter": "datum.nen == 15"},
  {"lookup": "s", "from": {"data": {"values": [{"s": "農業", "ly": 26398}, {"s": "林業", "ly": 25067}, {"s": "水産業", "ly": 23930}, {"s": "鉱業", "ly": 22177}, {"s": "電ガ水", "ly": 18995}, {"s": "対家計", "ly": 422}]}, "key": "s", "fields": ["ly"]}},
  {"filter": "isValid(datum.ly)"},
  {"calculate": "(atan2(-18, (datum.mid - datum.ly) * 0.0308) * 180 / PI + 360) % 360", "as": "ang"}
 ],
 "layer": [
  {"mark": {"type": "rule", "stroke": "#000", "strokeWidth": 1, "xOffset": 28, "x2Offset": 45},
   "encoding": {"x": {"field": "nen", "type": "ordinal", "bandPosition": 0.5}, "x2": {"field": "nen", "bandPosition": 0.5}, "y": {"field": "mid", "type": "quantitative"}, "y2": {"field": "ly"}}},
  {"mark": {"type": "point", "shape": "triangle", "filled": true, "fill": "#000", "opacity": 1, "size": 60, "xOffset": 31},
   "encoding": {"x": {"field": "nen", "type": "ordinal", "bandPosition": 0.5}, "y": {"field": "mid", "type": "quantitative"}, "angle": {"field": "ang", "type": "quantitative", "scale": null}}},
  {"transform": [{"filter": "length(datum.s) == 2"}],
   "encoding": {"x": {"field": "nen", "type": "ordinal", "bandPosition": 0.5}, "x2": {"field": "nen", "bandPosition": 0.5}, "y": {"field": "ly", "type": "quantitative"}},
   "layer": [
    {"mark": {"type": "rule", "stroke": "#000", "strokeWidth": 24, "xOffset": 44, "x2Offset": 87}},
    {"mark": {"type": "rule", "stroke": "#fff", "strokeWidth": 22, "xOffset": 45, "x2Offset": 86}}
   ]},
  {"transform": [{"filter": "length(datum.s) == 3"}],
   "encoding": {"x": {"field": "nen", "type": "ordinal", "bandPosition": 0.5}, "x2": {"field": "nen", "bandPosition": 0.5}, "y": {"field": "ly", "type": "quantitative"}},
   "layer": [
    {"mark": {"type": "rule", "stroke": "#000", "strokeWidth": 24, "xOffset": 45, "x2Offset": 107}},
    {"mark": {"type": "rule", "stroke": "#fff", "strokeWidth": 22, "xOffset": 46, "x2Offset": 106}}
   ]},
  {"mark": {"type": "text", "align": "left", "baseline": "middle", "dx": 49, "fontSize": 15, "font": "Noto Sans CJK JP", "fill": "#000"},
   "encoding": {"x": {"field": "nen", "type": "ordinal", "bandPosition": 0.5}, "y": {"field": "ly", "type": "quantitative"}, "text": {"field": "s"}}}
 ]}
]
}
